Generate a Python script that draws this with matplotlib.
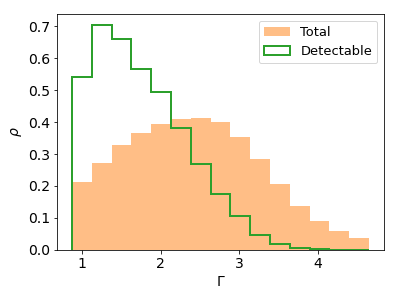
import numpy as np
import matplotlib
matplotlib.use("Agg")
import matplotlib.pyplot as plt

bin_edges = np.linspace(0.873, 4.645, 16)
total = [0.213, 0.273, 0.327, 0.367, 0.393, 0.408, 0.412, 0.399, 0.354,
         0.284, 0.206, 0.137, 0.091, 0.059, 0.037]
detectable = [0.541, 0.704, 0.660, 0.566, 0.493, 0.382, 0.269, 0.175, 0.107,
              0.046, 0.018, 0.007, 0.003, 0.0005, 0.0002]

centers = 0.5 * (bin_edges[:-1] + bin_edges[1:])

DPI = 72
fig = plt.figure(figsize=(399 / DPI, 299 / DPI), dpi=DPI)
ax = fig.add_axes([0.143, 0.164, 0.819, 0.789])
ax.hist(centers, bins=bin_edges, weights=total, color="C1", alpha=0.5, label="Total")
ax.hist(centers, bins=bin_edges, weights=detectable, histtype="step", color="C2",
        linewidth=2, label="Detectable")
ax.set_ylim(0, 0.7375)
ax.set_yticks([0.0, 0.1, 0.2, 0.3, 0.4, 0.5, 0.6, 0.7])
ax.set_xticks([1, 2, 3, 4])
ax.set_xlabel(r"$\Gamma$", fontsize=14)
ax.set_ylabel(r"$\rho$", fontsize=14)
ax.tick_params(labelsize=14)
ax.legend(loc="upper right", fontsize=13)
fig.savefig("out.png", dpi=DPI)
